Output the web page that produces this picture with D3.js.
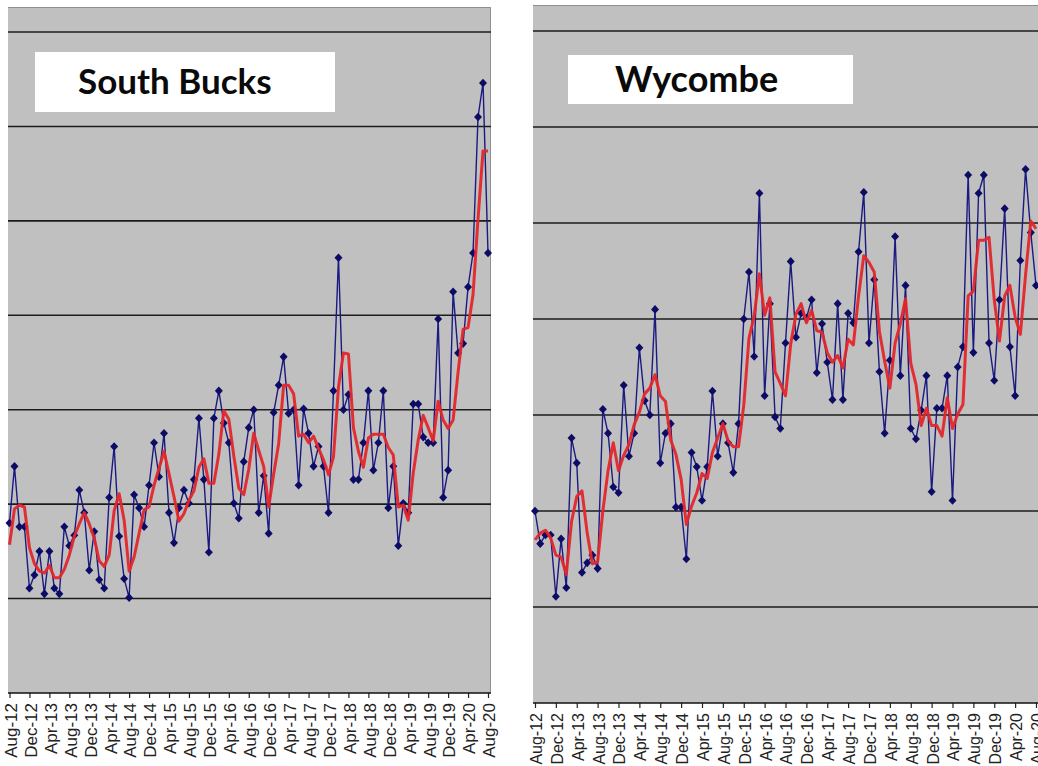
<!DOCTYPE html>
<html>
<head>
<meta charset="utf-8">
<script src="https://cdn.jsdelivr.net/npm/d3@7"></script>
<style>
  body { margin: 0; background: #fff; }
</style>
</head>
<body>
<div id="chart"></div>
<script>
// monthly categories Aug-12 .. Aug-20
var months = d3.timeMonth.range(new Date(2012, 7, 1), new Date(2020, 8, 1));
var categories = months.map(d3.timeFormat("%b-%y"));

var tickLabels = ["Aug-12","Dec-12","Apr-13","Aug-13","Dec-13","Apr-14","Aug-14","Dec-14",
                  "Apr-15","Aug-15","Dec-15","Apr-16","Aug-16","Dec-16","Apr-17","Aug-17",
                  "Dec-17","Apr-18","Aug-18","Dec-18","Apr-19","Aug-19","Dec-19","Apr-20","Aug-20"];

var gridValues = [10, 20, 30, 40, 50, 60, 70];

var southBucksMonthly = [18.0,24.0,17.6,17.6,11.1,12.5,15.0,10.5,15.0,11.1,
                         10.5,17.6,15.6,16.7,21.5,19.1,13.0,17.1,12.0,11.1,
                         20.7,26.1,16.6,12.1,10.1,21.0,19.6,17.6,22.0,26.5,
                         22.9,27.5,19.1,15.9,19.6,21.5,20.1,22.6,29.1,22.6,
                         14.9,29.1,32.0,28.6,26.5,20.1,18.5,24.5,28.1,30.0,
                         19.1,23.0,16.9,29.7,32.6,35.6,29.6,30.0,22.0,30.1,
                         27.5,24.0,26.1,24.0,19.1,32.0,46.1,30.0,31.6,22.6,
                         22.6,26.5,32.0,23.6,26.5,32.0,19.6,24.0,15.6,20.1,
                         19.1,30.6,30.6,27.1,26.5,26.5,39.6,20.7,23.6,42.5,
                         36.0,37.0,43.0,46.6,61.0,64.6,46.6];

var southBucksAverage = [15.7,19.5,19.9,19.7,15.4,13.7,12.9,12.7,13.5,12.2,
                         12.2,13.1,14.6,16.6,17.9,19.1,17.9,16.4,14.0,13.4,
                         14.6,19.3,21.1,18.3,12.9,14.4,16.9,19.4,19.7,22.0,
                         23.8,25.6,23.2,20.8,18.2,19.0,20.4,21.4,23.9,24.8,
                         22.2,22.2,25.3,29.9,29.0,25.1,21.7,21.0,23.7,27.5,
                         25.7,24.0,19.7,23.2,26.4,32.6,32.6,31.7,27.2,27.4,
                         26.5,27.2,25.9,24.7,23.1,25.0,32.4,36.0,35.9,28.1,
                         25.6,23.9,27.0,27.4,27.4,27.4,26.0,25.2,19.7,19.9,
                         18.3,23.3,26.8,29.4,28.1,26.7,30.9,28.9,28.0,28.9,
                         34.0,38.5,38.7,42.2,50.2,57.4,57.4];

var wycombeMonthly = [20.0,16.6,17.5,17.5,11.1,17.1,12.0,27.6,25.0,13.6,
                      14.6,15.4,14.0,30.6,28.1,22.5,21.9,33.1,25.7,28.1,
                      37.0,31.5,30.0,41.0,25.0,28.1,29.1,20.4,20.4,15.0,
                      26.1,24.6,21.1,24.6,32.5,25.7,29.1,27.1,24.0,29.1,
                      40.0,44.9,36.1,53.1,32.0,41.6,29.8,28.6,37.5,46.0,
                      38.1,40.6,40.1,42.0,34.4,39.5,35.5,31.6,41.6,31.6,
                      40.6,39.6,47.0,53.2,37.5,44.1,34.5,28.1,35.7,48.6,
                      34.1,43.5,28.6,27.5,30.5,34.1,22.0,30.7,30.7,34.1,
                      21.1,35.0,37.1,55.0,36.5,53.1,55.0,37.5,33.6,42.0,
                      51.5,37.1,32.0,46.1,55.6,49.0,43.5];

var wycombeAverage = [17.0,17.7,18.0,17.2,15.4,15.2,13.4,18.9,21.5,22.1,
                      17.7,14.5,14.7,20.0,24.2,27.1,24.2,25.8,26.9,29.0,
                      30.3,32.2,32.8,34.2,32.0,31.4,27.4,25.9,23.3,18.6,
                      20.5,21.9,23.9,23.4,26.1,27.6,29.1,27.3,26.7,26.7,
                      31.0,38.0,40.3,44.7,40.4,42.2,34.5,33.3,32.0,37.4,
                      40.5,41.6,39.6,40.9,38.8,38.6,36.5,35.5,36.2,34.9,
                      37.9,37.3,42.4,46.6,45.9,44.9,38.7,35.6,32.8,37.5,
                      39.5,42.1,35.4,33.2,28.9,30.7,28.9,28.9,27.8,31.8,
                      28.6,30.1,31.1,42.4,42.9,48.2,48.2,48.5,42.0,37.7,
                      42.4,43.5,40.2,38.4,44.6,50.2,49.4];

function drawPanel(svg, p){

    var x = d3.scalePoint()
              .domain(categories)
              .range([p.x0, p.x1]);
    var y = d3.scaleLinear()
              .domain([0, 70])
              .range([p.axisY, p.gridTop]);

    var g = svg.append("g");

    // plot area
    g.append("rect")
        .attr("x", p.left)
        .attr("y", p.top)
        .attr("width", p.right - p.left)
        .attr("height", p.axisY - p.top)
        .attr("fill", "#c0c0c0");

    g.append("path")
        .attr("d", "M" + p.left + "," + (p.top + 0.5) + "H" + (p.right - 0.5) + "V" + p.axisY)
        .attr("fill", "none")
        .attr("stroke", "#8f8f8f")
        .attr("stroke-width", 1);

    g.selectAll("line.grid")
        .data(gridValues)
        .enter()
        .append("line")
        .attr("class", "grid")
        .attr("x1", p.left)
        .attr("x2", p.right)
        .attr("y1", function(d){ return y(d); })
        .attr("y2", function(d){ return y(d); })
        .attr("stroke", "#1c1c1c")
        .attr("stroke-width", 1.6);

    // x axis
    var axis = d3.axisBottom(x)
                 .tickValues(tickLabels)
                 .tickSize(5)
                 .tickSizeOuter(0);

    var ax = g.append("g")
              .attr("transform", "translate(0," + p.axisY + ")")
              .call(axis)
              .attr("font-family", "'Liberation Sans', Arial, sans-serif")
              .attr("font-size", p.labelSize);

    ax.select(".domain").remove();
    ax.append("line")
        .attr("x1", p.left)
        .attr("x2", p.right)
        .attr("stroke", "#111")
        .attr("stroke-width", 1.5);
    ax.selectAll(".tick line")
        .attr("stroke", "#222")
        .attr("stroke-width", 1.2);
    ax.selectAll(".tick text")
        .attr("transform", "rotate(-90)")
        .attr("x", -p.labelGap)
        .attr("y", 0)
        .attr("dy", "0.4em")
        .attr("fill", "#222")
        .style("text-anchor", "end");

    // monthly series
    var line = d3.line()
                 .x(function(d, i){ return x(categories[i]); })
                 .y(function(d){ return y(d); });

    g.append("path")
        .datum(p.monthly)
        .attr("d", line)
        .attr("fill", "none")
        .attr("stroke", "#1a1a80")
        .attr("stroke-width", 1.4);

    g.selectAll("path.marker")
        .data(p.monthly)
        .enter()
        .append("path")
        .attr("class", "marker")
        .attr("d", "M0,-4.3L4,0L0,4.3L-4,0Z")
        .attr("transform", function(d, i){
            return "translate(" + x(categories[i]) + "," + y(d) + ")";
        })
        .attr("fill", "#0c0c66");

    // moving average
    g.append("path")
        .datum(p.average)
        .attr("d", line)
        .attr("fill", "none")
        .attr("stroke", "#e3262b")
        .attr("stroke-width", 3)
        .attr("stroke-linejoin", "round")
        .attr("opacity", 0.95);

    // title box
    g.append("rect")
        .attr("x", p.boxX)
        .attr("y", p.boxY)
        .attr("width", p.boxW)
        .attr("height", p.boxH)
        .attr("fill", "#fff");

    g.append("text")
        .attr("x", p.titleX)
        .attr("y", p.titleY)
        .attr("font-family", "Lato, 'Open Sans', sans-serif")
        .attr("font-weight", 700)
        .attr("font-size", p.titleSize)
        .attr("fill", "#0a0a0a")
        .text(p.title);
}

function init(){

    var w = 1038;
    var h = 766;

    var svg = d3.select("#chart")
                .append("svg")
                .attr("width", w)
                .attr("height", h)
                .style("display", "block");

    drawPanel(svg, {
        title: "South Bucks",
        monthly: southBucksMonthly,
        average: southBucksAverage,
        left: 8, right: 491, top: 7,
        gridTop: 32, axisY: 693,
        x0: 9.5, x1: 488,
        labelGap: 10, labelSize: 17,
        boxX: 35, boxY: 52, boxW: 300, boxH: 60,
        titleX: 78, titleY: 94, titleSize: 35
    });

    drawPanel(svg, {
        title: "Wycombe",
        monthly: wycombeMonthly,
        average: wycombeAverage,
        left: 533, right: 1046, top: 5,
        gridTop: 31, axisY: 703,
        x0: 535, x1: 1036,
        labelGap: 10, labelSize: 16,
        boxX: 568, boxY: 55, boxW: 285, boxH: 49,
        titleX: 615, titleY: 92, titleSize: 36
    });
}

window.onload = init;
</script>
</body>
</html>
